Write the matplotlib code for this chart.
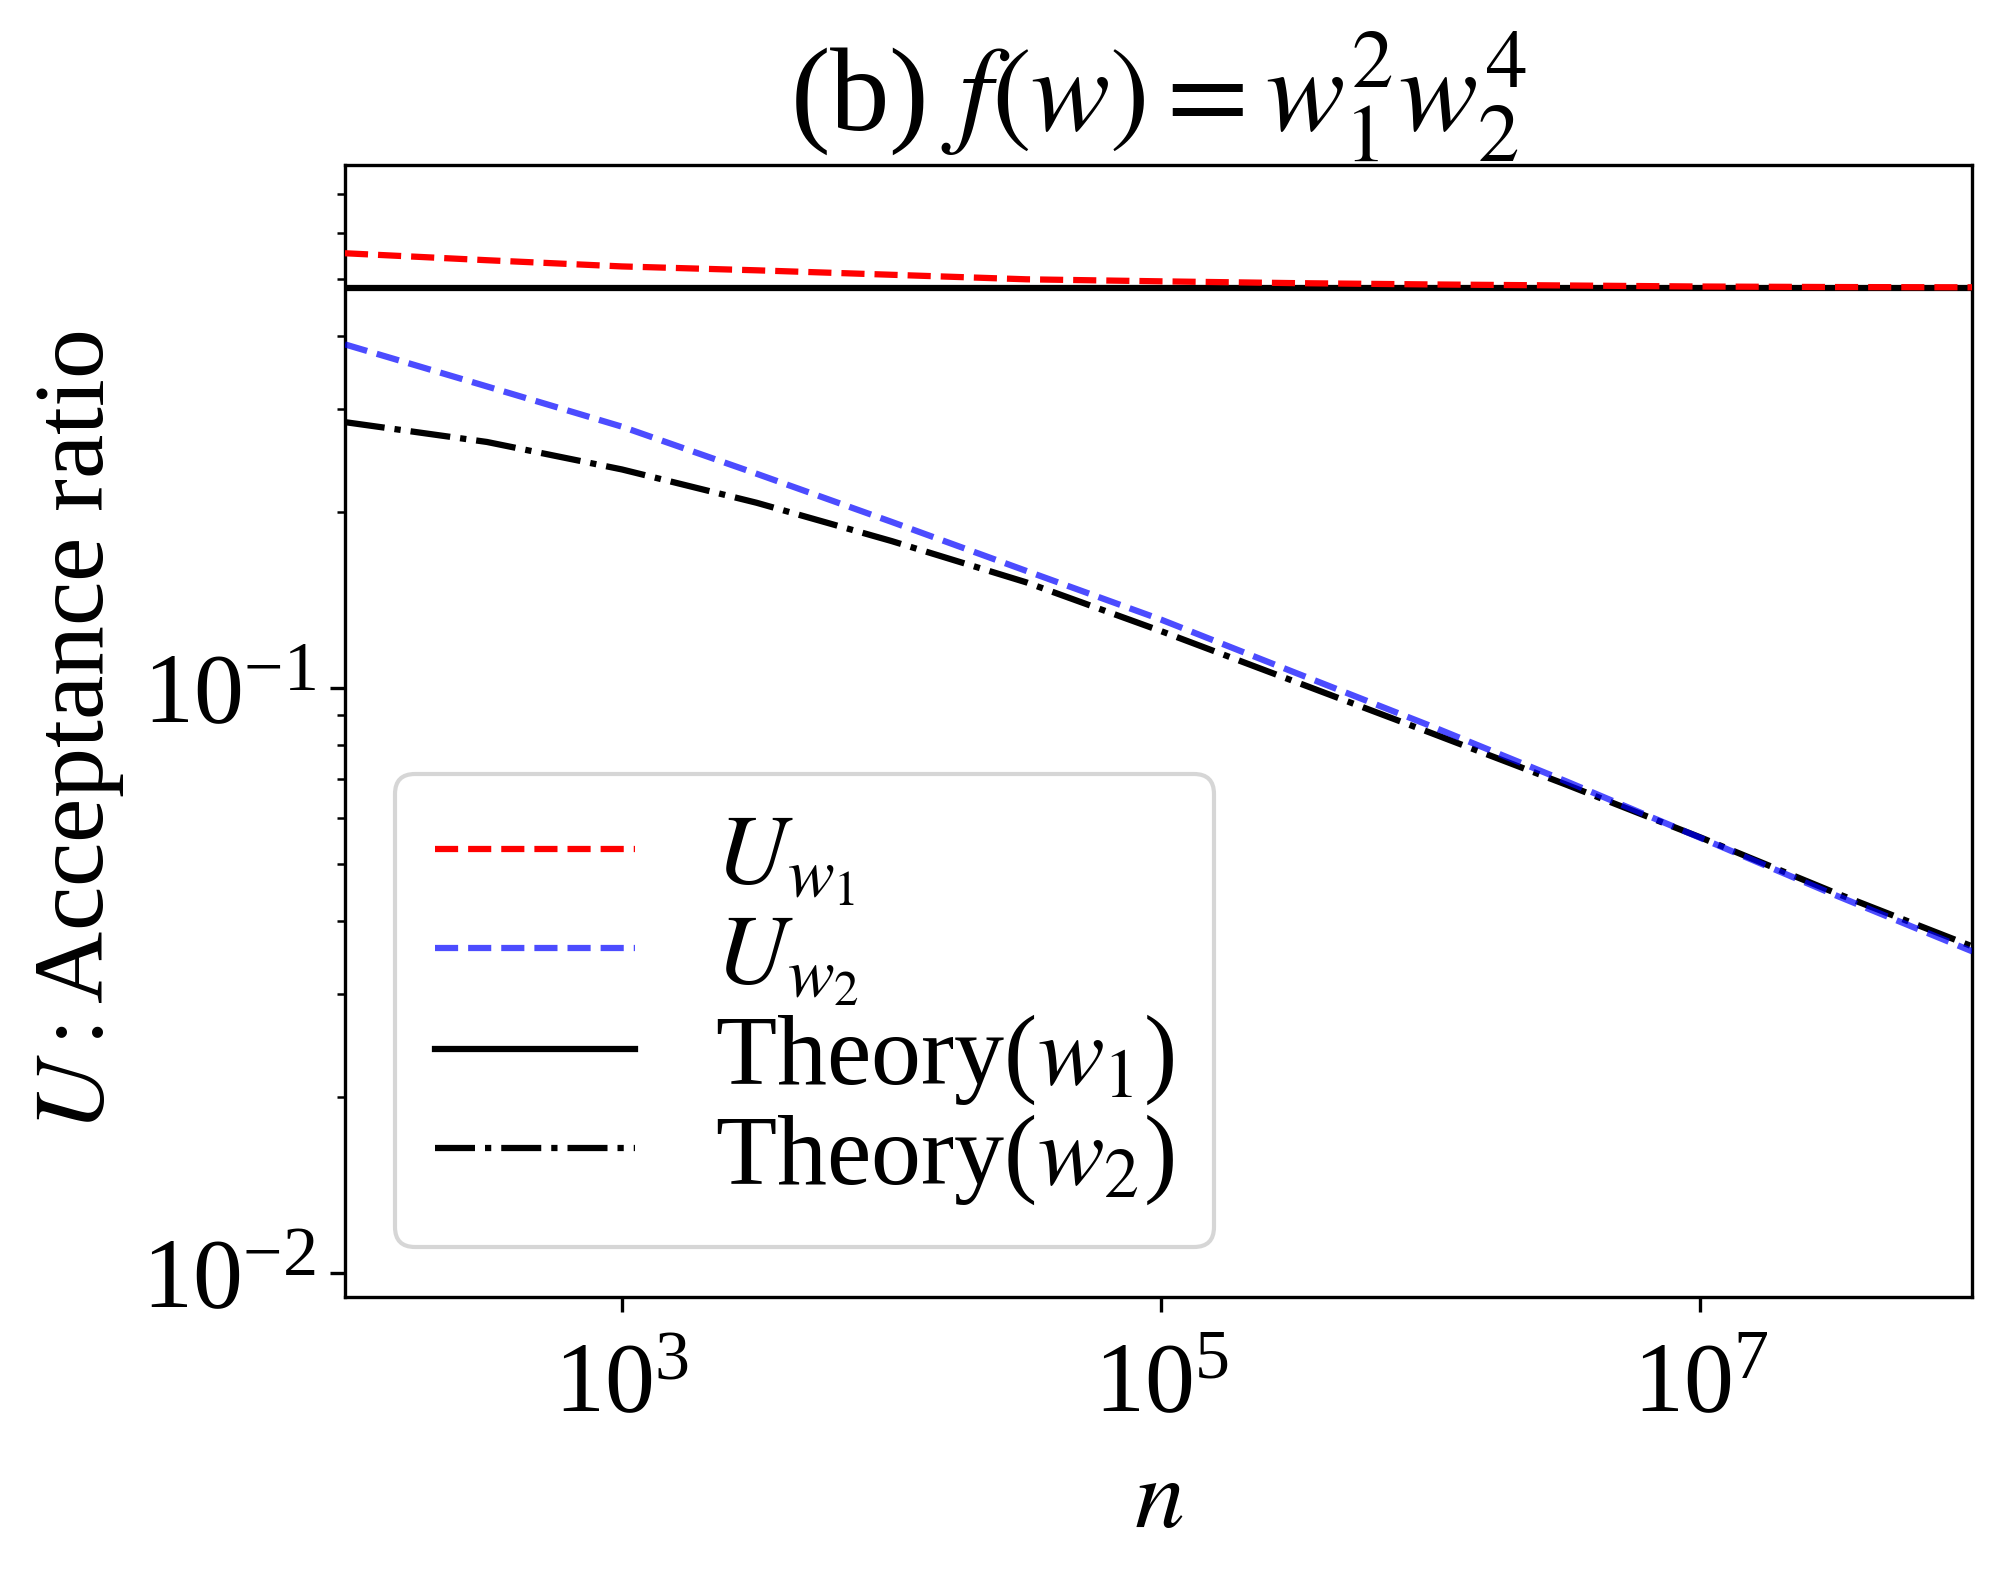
import numpy as np
import matplotlib
matplotlib.use('Agg')
import matplotlib.pyplot as plt
from matplotlib.ticker import NullLocator

plt.rcParams['font.family'] = 'serif'
plt.rcParams['font.serif'] = ['Liberation Serif', 'DejaVu Serif']
plt.rcParams['mathtext.fontset'] = 'stix'
plt.rcParams['font.size'] = 24

# number of iterations n
n = [94, 316, 1000, 3162, 10000, 31623, 100000, 316228, 1000000,
     3162278, 10000000, 31622777, 102000000]

# acceptance ratios
U_w1 = [0.554, 0.539, 0.526, 0.518, 0.509, 0.500, 0.496, 0.4925, 0.490,
        0.488, 0.486, 0.485, 0.4845]
U_w2 = [0.387, 0.328, 0.280, 0.2326, 0.1925, 0.1587, 0.131, 0.1062, 0.0862,
        0.0694, 0.0555, 0.0443, 0.0355]
theory_w1 = 0.484
theory_w2 = [0.285, 0.2636, 0.2366, 0.2075, 0.1785, 0.1517, 0.1252, 0.1025,
             0.0839, 0.0685, 0.0556, 0.0447, 0.0362]

fig = plt.figure(figsize=(2002 / 300, 1576 / 300), dpi=300)
ax = fig.add_subplot(111)
fig.subplots_adjust(left=0.1723, right=0.9852, top=0.8953, bottom=0.1772)

ax.plot(n, U_w1, '--', color='r', label=r'$U_{w_1}$', zorder=3)
ax.plot(n, U_w2, '--', color='b', alpha=0.7, label=r'$U_{w_2}$', zorder=3)
ax.plot(n, [theory_w1] * len(n), '-', color='k', label=r'Theory($w_1$)')
ax.plot(n, theory_w2, '-.', color='k', label=r'Theory($w_2$)')

ax.set_xscale('log')
ax.set_yscale('log')
ax.set_xlim(94, 1.02e8)
ax.set_ylim(0.00912, 0.784)
ax.set_xticks([1e3, 1e5, 1e7])
ax.xaxis.set_minor_locator(NullLocator())
ax.tick_params(axis='x', which='major', pad=7.5)

ax.set_xlabel(r'$n$', labelpad=6)
ax.set_ylabel(r'$U:$Acceptance ratio')
ax.set_title(r'(b) $f(w) = w_1^2 w_2^4$', fontsize=28.5)
ax.legend(loc='lower left', fontsize=24, labelspacing=0.05)

plt.savefig('out.png', dpi=300)
